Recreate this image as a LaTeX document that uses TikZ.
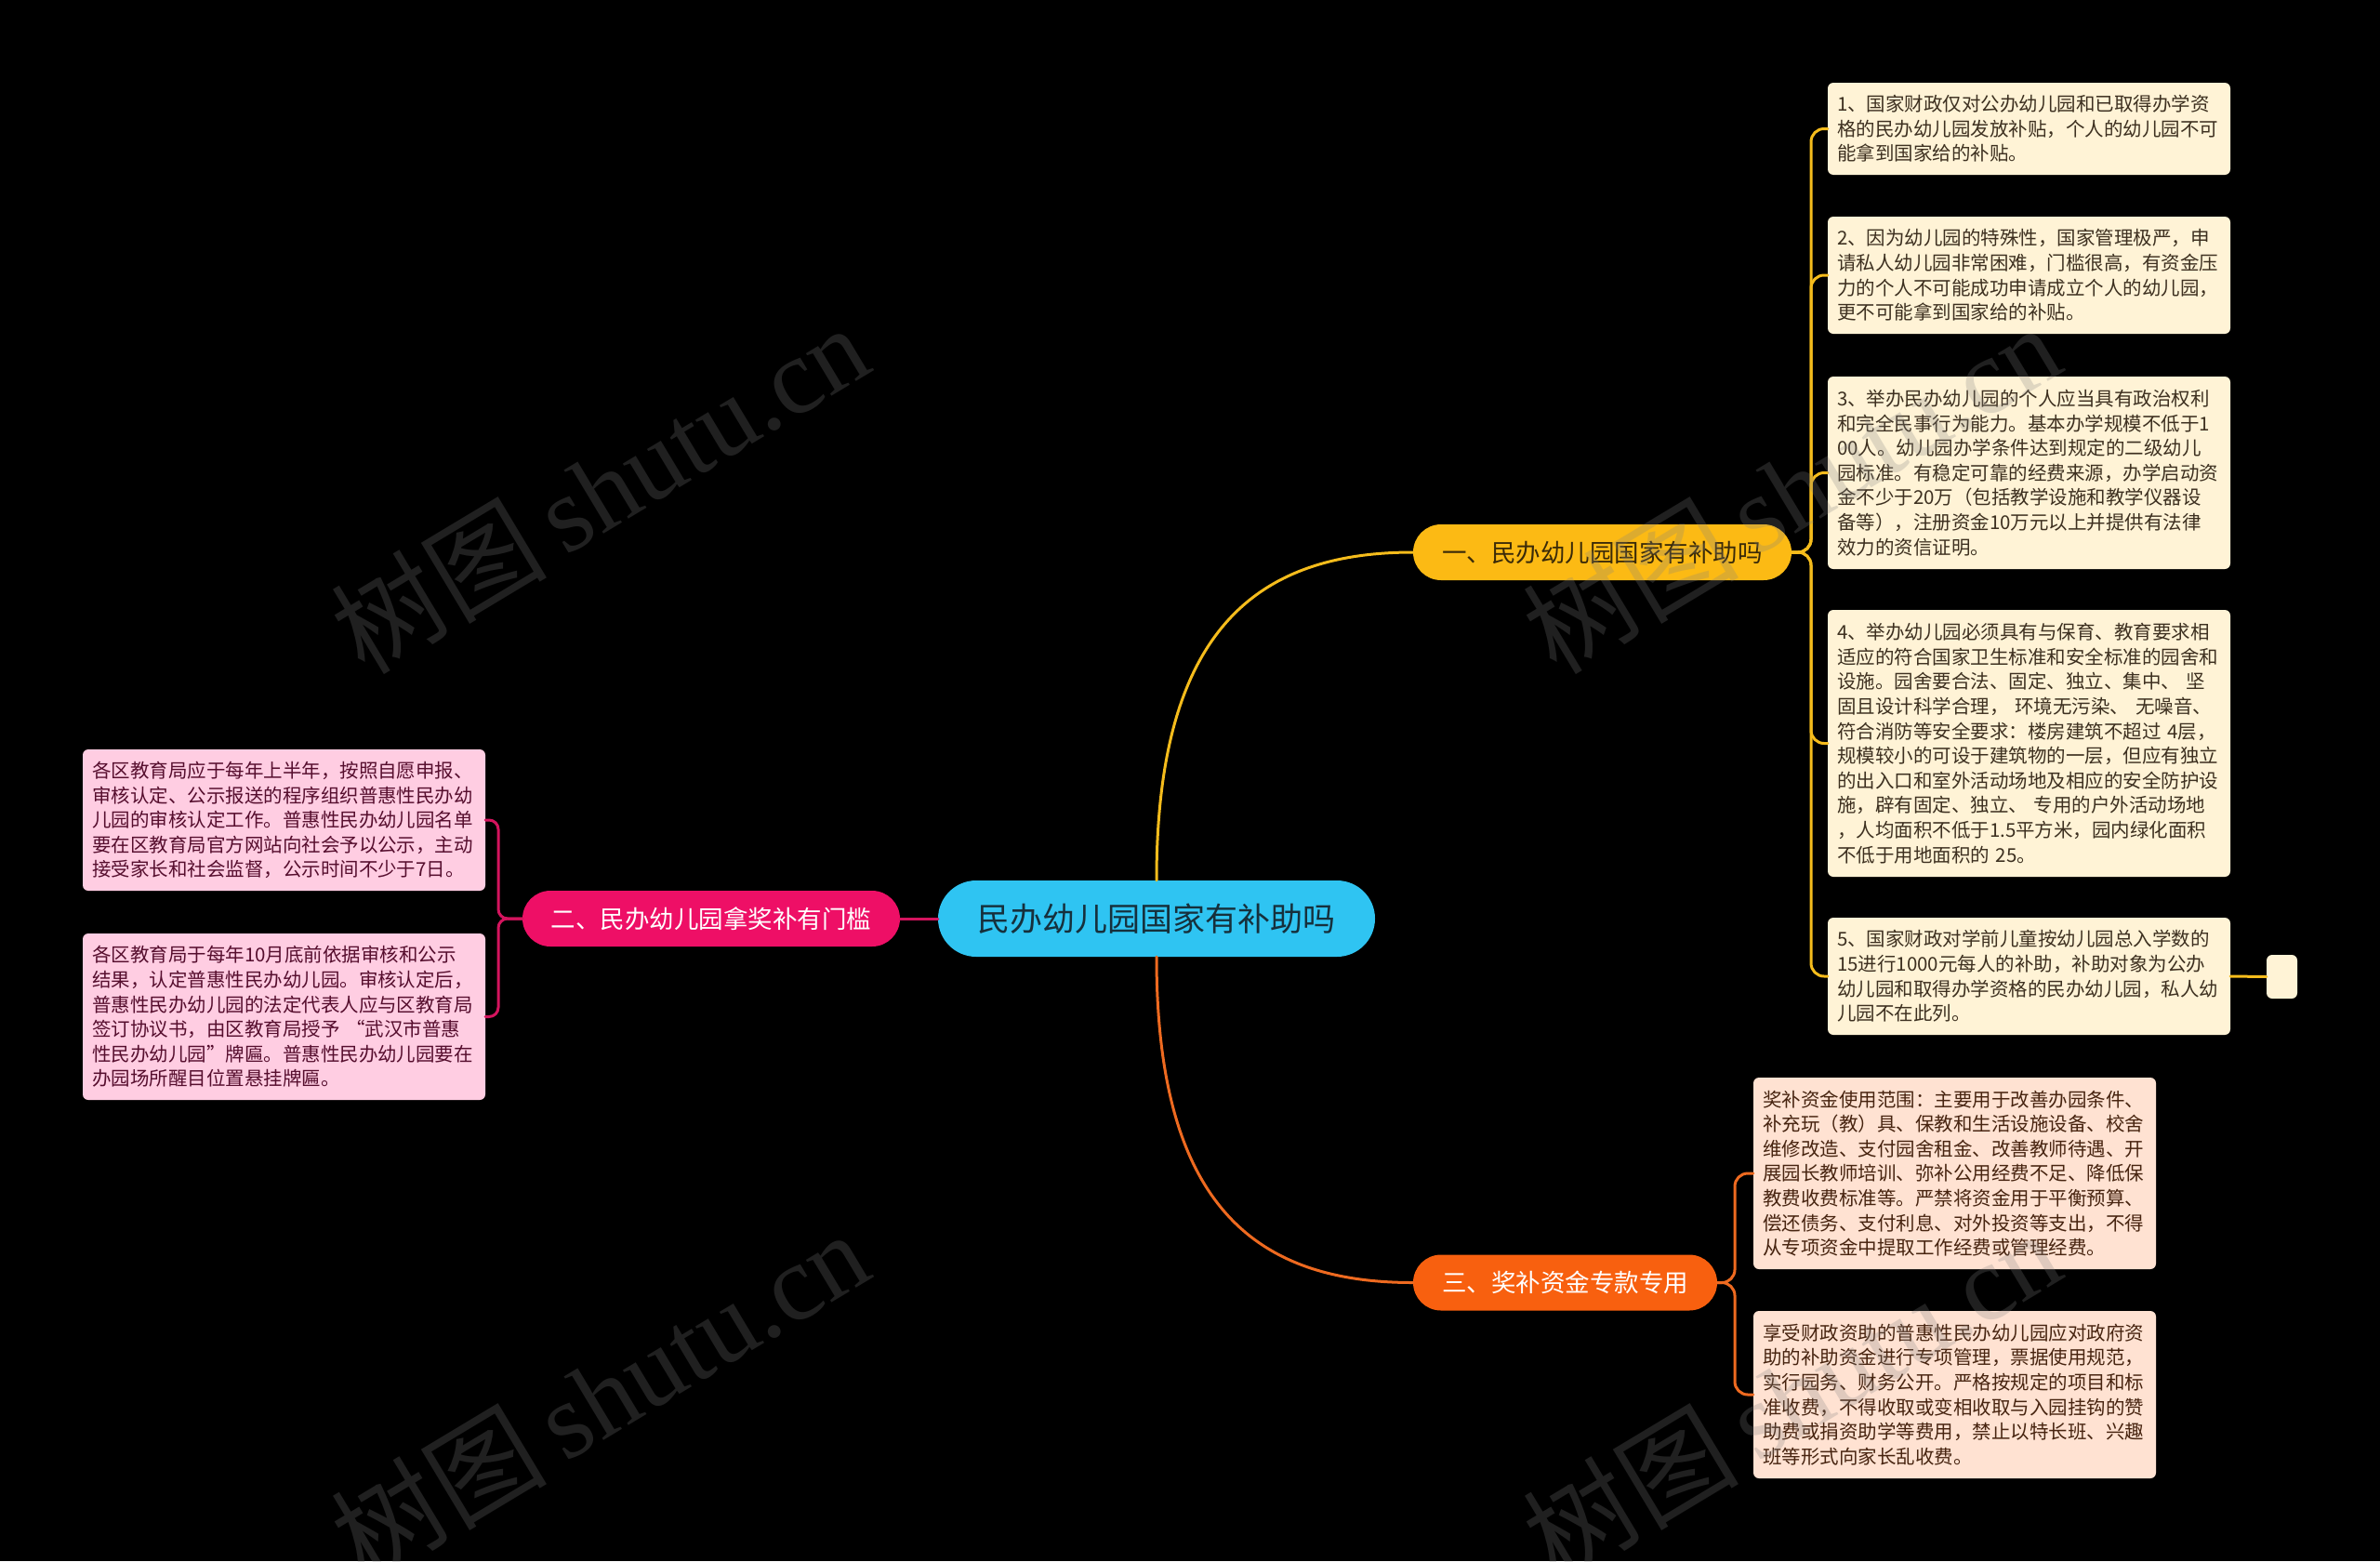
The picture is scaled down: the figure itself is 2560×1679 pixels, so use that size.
\documentclass[tikz,border=0pt]{standalone}
\usepackage{fontspec}
\newfontfamily\cjk{Noto Sans CJK SC}
\newfontfamily\wmserif{Liberation Serif}
\usetikzlibrary{calc}
\definecolor{bgc}{HTML}{000000}
\definecolor{cfill}{HTML}{2FC4F2}
\definecolor{ctext}{HTML}{16303C}
\definecolor{yfill}{HTML}{FCBA14}
\definecolor{yline}{HTML}{F5BC1C}
\definecolor{ytext}{HTML}{3A2A08}
\definecolor{pfill}{HTML}{EE0F66}
\definecolor{pline}{HTML}{D4145E}
\definecolor{ofill}{HTML}{F8600F}
\definecolor{oline}{HTML}{EE6A20}
\definecolor{leafy}{HTML}{FFF3D6}
\definecolor{leafytext}{HTML}{3D3020}
\definecolor{leafo}{HTML}{FFE2D2}
\definecolor{leafotext}{HTML}{472410}
\definecolor{leafp}{HTML}{FFCDE2}
\definecolor{leafptext}{HTML}{560E2E}
\newcommand\leaffont{\cjk\fontsize{20.5}{26.6}\selectfont}
\newcommand\brfont{\cjk\fontsize{26.5}{30}\selectfont}
\newcommand\cenfont{\cjk\fontsize{35}{40}\selectfont}
\newcommand\wmtext{{\cjk\fontsize{116}{120}\selectfont 树图\,\wmserif shutu.cn}}
\begin{document}
\begin{tikzpicture}[x=1pt,y=-1pt,
  centre/.style={fill=cfill, text=ctext, rounded corners=41pt, minimum width=470pt, minimum height=82pt, inner sep=0pt, font=\cenfont},
  branch/.style={rounded corners=30pt, minimum height=60pt, inner sep=0pt, font=\brfont},
  leaf/.style={rounded corners=6pt, text width=413pt, inner xsep=10pt, inner ysep=0pt, align=left, font=\leaffont},
  leafY/.style={leaf, fill=leafy, text=leafytext},
  leafO/.style={leaf, fill=leafo, text=leafotext},
  leafP/.style={leaf, fill=leafp, text=leafptext},
  conn/.style={line width=3pt, line cap=round},
  wm/.style={gray, opacity=0.25, rotate=31, inner sep=0pt}
]
\fill[bgc] (0,0) rectangle (2560,1679);
\useasboundingbox (0,0) rectangle (2560,1679);

% central and branches
\node[centre] (c) at (1244,988) {民办幼儿园国家有补助吗};
\node[branch, fill=yfill, text=ytext, minimum width=407pt] (b1) at (1723.5,594) {一、民办幼儿园国家有补助吗};
\node[branch, fill=pfill, text=white, minimum width=406pt] (b2) at (765,988) {二、民办幼儿园拿奖补有门槛};
\node[branch, fill=ofill, text=white, minimum width=327pt] (b3) at (1683.5,1379.5) {三、奖补资金专款专用};

% leaves of branch 1
\node[leafY, minimum height=99pt] (l1) at (2182.5,138.5) {1、国家财政仅对公办幼儿园和已取得办学资\\格的民办幼儿园发放补贴，个人的幼儿园不可\\能拿到国家给的补贴。};
\node[leafY, minimum height=126pt] (l2) at (2182.5,296) {2、因为幼儿园的特殊性，国家管理极严，申\\请私人幼儿园非常困难，门槛很高，有资金压\\力的个人不可能成功申请成立个人的幼儿园，\\更不可能拿到国家给的补贴。};
\node[leafY, minimum height=207pt] (l3) at (2182.5,508.5) {3、举办民办幼儿园的个人应当具有政治权利\\和完全民事行为能力。基本办学规模不低于1\\00人。幼儿园办学条件达到规定的二级幼儿\\园标准。有稳定可靠的经费来源，办学启动资\\金不少于20万（包括教学设施和教学仪器设\\备等），注册资金10万元以上并提供有法律\\效力的资信证明。};
\node[leafY, minimum height=287pt] (l4) at (2182.5,799.5) {4、举办幼儿园必须具有与保育、教育要求相\\适应的符合国家卫生标准和安全标准的园舍和\\设施。园舍要合法、固定、独立、集中、 坚\\固且设计科学合理， 环境无污染、 无噪音、\\符合消防等安全要求：楼房建筑不超过 4层，\\规模较小的可设于建筑物的一层，但应有独立\\的出入口和室外活动场地及相应的安全防护设\\施，辟有固定、独立、 专用的户外活动场地\\，人均面积不低于1.5平方米，园内绿化面积\\不低于用地面积的 25。};
\node[leafY, minimum height=126pt] (l5) at (2182.5,1050) {5、国家财政对学前儿童按幼儿园总入学数的\\15进行1000元每人的补助，补助对象为公办\\幼儿园和取得办学资格的民办幼儿园，私人幼\\儿园不在此列。};
\node[fill=leafy, rounded corners=6pt, minimum width=33pt, minimum height=47pt, inner sep=0pt] (s5) at (2454.5,1050.5) {};

% leaves of branch 3
\node[leafO, minimum height=206pt] (l6) at (2102.5,1262) {奖补资金使用范围：主要用于改善办园条件、\\补充玩（教）具、保教和生活设施设备、校舍\\维修改造、支付园舍租金、改善教师待遇、开\\展园长教师培训、弥补公用经费不足、降低保\\教费收费标准等。严禁将资金用于平衡预算、\\偿还债务、支付利息、对外投资等支出，不得\\从专项资金中提取工作经费或管理经费。};
\node[leafO, minimum height=180pt] (l7) at (2102.5,1500) {享受财政资助的普惠性民办幼儿园应对政府资\\助的补助资金进行专项管理，票据使用规范，\\实行园务、财务公开。严格按规定的项目和标\\准收费，不得收取或变相收取与入园挂钩的赞\\助费或捐资助学等费用，禁止以特长班、兴趣\\班等形式向家长乱收费。};

% leaves of branch 2
\node[leafP, minimum height=152pt] (l8) at (305.5,882) {各区教育局应于每年上半年，按照自愿申报、\\审核认定、公示报送的程序组织普惠性民办幼\\儿园的审核认定工作。普惠性民办幼儿园名单\\要在区教育局官方网站向社会予以公示，主动\\接受家长和社会监督，公示时间不少于7日。};
\node[leafP, minimum height=179pt] (l9) at (305.5,1093.5) {各区教育局于每年10月底前依据审核和公示\\结果，认定普惠性民办幼儿园。审核认定后，\\普惠性民办幼儿园的法定代表人应与区教育局\\签订协议书，由区教育局授予 “武汉市普惠\\性民办幼儿园”牌匾。普惠性民办幼儿园要在\\办园场所醒目位置悬挂牌匾。};

% junction points
\coordinate (j1) at (1948,594);
\coordinate (j2) at (536,988);
\coordinate (j3) at (1866,1379.5);

% main connectors
\draw[conn, yline] (c.north) .. controls +(0,-267) and +(-170,0) .. (b1.west);
\draw[conn, oline] (c.south) .. controls +(0,267) and +(-170,0) .. (b3.west);
\draw[conn, pline] (c.west) -- (b2.east);

% branch 1 leaves
\foreach \l in {l1,l2,l3,l4,l5}{
  \draw[conn, yline, rounded corners=14pt] (b1.east) -- (j1) |- (\l.west);
}
\draw[conn, yline] (l5.east) -- (s5.west);
% branch 3 leaves
\foreach \l in {l6,l7}{
  \draw[conn, oline, rounded corners=14pt] (b3.east) -- (j3) |- (\l.west);
}
% branch 2 leaves
\foreach \l in {l8,l9}{
  \draw[conn, pline, rounded corners=10pt] (b2.west) -- (j2) |- (\l.east);
}

% watermarks
\node[wm] (w1) at (645,525) {\wmtext};
\node[wm] (w2) at (645,1500) {\wmtext};
\node[wm] (w3) at (1927,525) {\wmtext};
\node[wm] (w4) at (1927,1500) {\wmtext};
\end{tikzpicture}
\end{document}
